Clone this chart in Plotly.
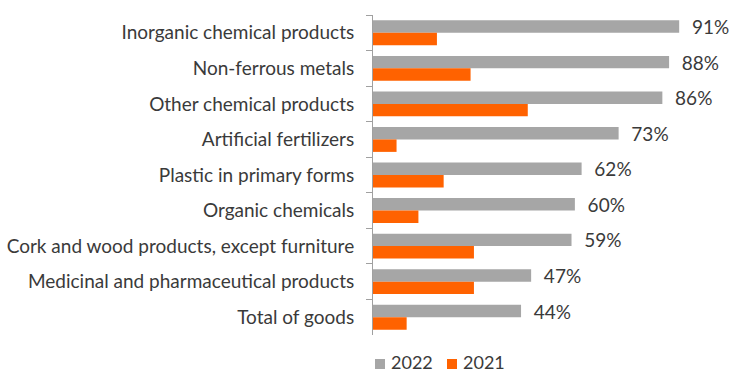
import plotly.graph_objects as go

# Product groups, top to bottom
categories = [
    "Inorganic chemical products",
    "Non-ferrous metals",
    "Other chemical products",
    "Artificial fertilizers",
    "Plastic in primary forms",
    "Organic chemicals",
    "Cork and wood products, except furniture",
    "Medicinal and pharmaceutical products",
    "Total of goods",
]

# Price change, %
values_2022 = [91, 88, 86, 73, 62, 60, 59, 47, 44]
values_2021 = [19, 29, 46, 7, 21, 13.5, 30, 30, 10]

series_names = ["2022", "2021"]
GRAY = "#a6a6a6"
ORANGE = "#ff6200"
series_colors = [GRAY, ORANGE]
TEXT = "#3a3a3a"
FONT = "Lato"

W, H = 731, 374
M = dict(l=373, r=0, t=15, b=39)

fig = go.Figure()
# 2022 bars carry their value as a label just past the bar end
fig.add_trace(go.Bar(
    name=series_names[0], y=categories, x=values_2022, orientation="h",
    marker=dict(color=GRAY, line=dict(width=0)),
    texttemplate="\u00a0\u00a0%{x}%", textposition="outside",
    textfont=dict(family=FONT, size=19, color=TEXT),
    constraintext="none", cliponaxis=False,
))
fig.add_trace(go.Bar(
    name=series_names[1], y=categories, x=values_2021, orientation="h",
    marker=dict(color=ORANGE, line=dict(width=0)),
))

# Compact legend under the bars: colour key squares followed by the year
pw = W - M["l"] - M["r"]
ph = H - M["t"] - M["b"]
def px_x(p):
    return (p - M["l"]) / pw
def px_y(p):
    return (H - M["b"] - p) / ph

key_left = [375, 447]
for left, name, col in zip(key_left, series_names, series_colors):
    fig.add_shape(
        type="rect", xref="paper", yref="paper",
        x0=px_x(left), x1=px_x(left + 10), y0=px_y(369), y1=px_y(359),
        fillcolor=col, line=dict(width=0),
    )
    fig.add_annotation(
        xref="paper", yref="paper", x=px_x(left + 14), y=px_y(362),
        text=name, showarrow=False, xanchor="left", yanchor="middle",
        font=dict(family=FONT, size=18, color=TEXT),
    )

fig.update_layout(
    width=W, height=H,
    margin=M,
    paper_bgcolor="white", plot_bgcolor="white",
    barmode="group", bargap=0.3, bargroupgap=0,
    font=dict(family=FONT, size=19, color=TEXT),
    showlegend=False,
    xaxis=dict(range=[0, 106.4], visible=False, fixedrange=True),
    yaxis=dict(
        autorange="reversed", showline=True, linecolor="#a0a0a0", linewidth=1,
        ticks="outside", tickson="boundaries", ticklen=6, tickcolor="#a0a0a0",
        showgrid=False, ticklabelstandoff=14,
        tickfont=dict(family=FONT, size=19, color=TEXT),
    ),
)

fig.write_html("out.html")
